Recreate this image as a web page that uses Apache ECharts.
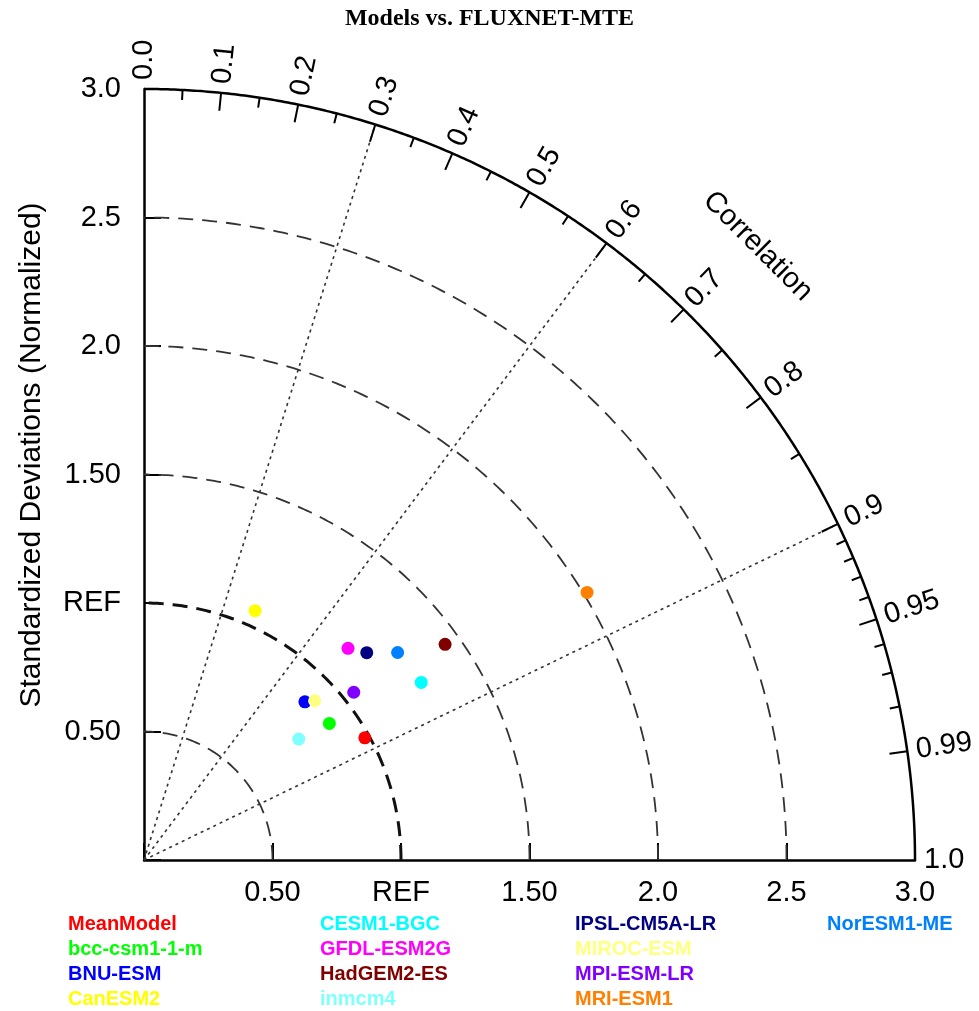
<!DOCTYPE html>
<html>
<head>
<meta charset="utf-8">
<title>Models vs. FLUXNET-MTE</title>
<script src="https://cdn.jsdelivr.net/npm/echarts@6/dist/echarts.min.js"></script>
<style>
  html, body { margin: 0; padding: 0; background: #fff; }
  #taylor { width: 979px; height: 1011px; }
</style>
</head>
<body>
<div id="taylor"></div>
<script>
// models, in legend order (later ones are drawn on top)
const models = ['MeanModel', 'bcc-csm1-1-m', 'BNU-ESM', 'CanESM2',
  'CESM1-BGC', 'GFDL-ESM2G', 'HadGEM2-ES', 'inmcm4',
  'IPSL-CM5A-LR', 'MIROC-ESM', 'MPI-ESM-LR', 'MRI-ESM1', 'NorESM1-ME'];
const modelColors = ['#ff0000', '#00ff00', '#0000ff', '#ffff00',
  '#00ffff', '#ff00ff', '#800000', '#80ffff',
  '#000080', '#ffff80', '#8000ff', '#ff8000', '#0080ff'];
// normalized standard deviation and correlation
const stdRatio = [0.982, 0.896, 0.878, 1.062, 1.281, 1.144, 1.441, 0.764, 1.184, 0.908, 1.045, 2.014, 1.275];
const correlation = [0.875, 0.805, 0.713, 0.407, 0.842, 0.694, 0.813, 0.788, 0.732, 0.731, 0.781, 0.856, 0.774];

// std dev axes
const stdTicks = [0, 0.5, 1, 1.5, 2, 2.5, 3];
const stdTickLabels = ['', '0.50', 'REF', '1.50', '2.0', '2.5', '3.0'];
const stdArcs = [0.5, 1, 1.5, 2, 2.5];
const stdMax = 3;

// correlation arc
const corrMajor = [0.1, 0.2, 0.3, 0.4, 0.5, 0.6, 0.7, 0.8, 0.9, 0.95, 0.99];
const corrLabelAt = [0, 0.1, 0.2, 0.3, 0.4, 0.5, 0.6, 0.7, 0.8, 0.9, 0.95, 0.99, 1.0];
const corrLabels = ['0.0', '0.1', '0.2', '0.3', '0.4', '0.5', '0.6', '0.7', '0.8', '0.9', '0.95', '0.99', '1.0'];
const corrMinor = [0.05, 0.15, 0.25, 0.35, 0.45, 0.55, 0.65, 0.75, 0.85,
  0.91, 0.92, 0.93, 0.94, 0.96, 0.97, 0.98];
const corrRays = [0.3, 0.6, 0.9];

const FONT = '"Liberation Sans", Arial, sans-serif';

function xy(r, c) {
  return [r * c, r * Math.sqrt(Math.max(0, 1 - c * c))];
}

function renderFrame(params, api) {
  const unit = api.size([1, 0])[0];
  const kids = [];
  const at = (r, c) => api.coord(xy(r, c));

  // std dev arcs
  stdArcs.forEach(function (r) {
    const pts = [];
    for (let i = 0; i <= 180; i++) {
      const a = i * Math.PI / 360;
      pts.push(api.coord([r * Math.cos(a), r * Math.sin(a)]));
    }
    const isRef = r === 1;
    kids.push({
      type: 'polyline', shape: { points: pts },
      style: { fill: null, stroke: isRef ? '#111' : '#333', lineWidth: isRef ? 3 : 1.8, lineDash: [15, 9] }
    });
  });

  // outer arc
  const outer = [];
  for (let i = 0; i <= 360; i++) {
    const a = i * Math.PI / 720;
    outer.push(api.coord([stdMax * Math.cos(a), stdMax * Math.sin(a)]));
  }
  kids.push({ type: 'polyline', shape: { points: outer }, style: { fill: null, stroke: '#000', lineWidth: 2.5 } });

  // correlation rays
  const o = api.coord([0, 0]);
  corrRays.forEach(function (c) {
    const p = at(stdMax, c);
    kids.push({
      type: 'line', shape: { x1: o[0], y1: o[1], x2: p[0], y2: p[1] },
      style: { stroke: '#333', lineWidth: 1.6, lineDash: [3, 4] }
    });
  });

  // ticks on the outer arc
  corrMajor.forEach(function (c) {
    const p1 = at(stdMax, c), p2 = at(stdMax - 18 / unit, c);
    kids.push({ type: 'line', shape: { x1: p1[0], y1: p1[1], x2: p2[0], y2: p2[1] }, style: { stroke: '#000', lineWidth: 2 } });
  });
  corrMinor.forEach(function (c) {
    const p1 = at(stdMax, c), p2 = at(stdMax - 10 / unit, c);
    kids.push({ type: 'line', shape: { x1: p1[0], y1: p1[1], x2: p2[0], y2: p2[1] }, style: { stroke: '#000', lineWidth: 2 } });
  });

  // correlation labels, reading outward
  corrLabelAt.forEach(function (c, i) {
    const p = at(stdMax + 9 / unit, c);
    kids.push({
      type: 'text', x: p[0], y: p[1], rotation: Math.acos(c),
      style: { text: corrLabels[i], font: '29px ' + FONT, fill: '#000', align: 'left', verticalAlign: 'middle' }
    });
  });

  // axis title along the arc
  const tc = Math.cos(Math.PI / 4);
  const tp = at(stdMax + 97 / unit, tc);
  kids.push({
    type: 'text', x: tp[0], y: tp[1], rotation: Math.acos(tc) - Math.PI / 2,
    style: { text: 'Correlation', font: '29px ' + FONT, fill: '#000', align: 'center', verticalAlign: 'middle' }
  });

  return { type: 'group', children: kids };
}

const chart = echarts.init(document.getElementById('taylor'));

const axisCommon = {
  type: 'value', min: 0, max: stdMax, interval: 0.5,
  splitLine: { show: false },
  axisLine: { lineStyle: { color: '#000', width: 2.5 } },
  axisTick: { inside: true, length: 17, lineStyle: { color: '#000', width: 2 } },
  axisLabel: {
    color: '#000', fontSize: 29, fontFamily: FONT,
    formatter: function (v) { return stdTickLabels[stdTicks.indexOf(Math.round(v * 2) / 2)]; }
  }
};

const series = [{
  type: 'custom', name: 'frame', clip: false, silent: true, z: 1,
  renderItem: renderFrame, data: [[0, 0]]
}];
models.forEach(function (m, i) {
  series.push({
    type: 'scatter', name: m, z: 5 + i,
    symbolSize: 13,
    itemStyle: { color: modelColors[i], opacity: 1 },
    data: [xy(stdRatio[i], correlation[i])]
  });
});

const legendCols = [[0, 1, 2, 3], [4, 5, 6, 7], [8, 9, 10, 11], [12]];
const legendLeft = [63, 315, 570, 822];
const legends = legendCols.map(function (col, k) {
  return {
    orient: 'vertical', left: legendLeft[k], top: 914, padding: 0,
    icon: 'none', itemWidth: 0, itemHeight: 20, itemGap: 5,
    selectedMode: false,
    textStyle: { fontSize: 20, fontWeight: 'bold', fontFamily: FONT, lineHeight: 20 },
    data: col.map(function (i) { return { name: models[i], textStyle: { color: modelColors[i] } }; })
  };
});

chart.setOption({
  backgroundColor: '#fff',
  animation: false,
  title: {
    text: 'Models vs. FLUXNET-MTE', left: 'center', top: 2,
    textStyle: { fontFamily: '"Liberation Serif", "Times New Roman", serif', fontWeight: 'bold', fontSize: 24, color: '#000' }
  },
  grid: { left: 144, top: 89, width: 771, height: 771 },
  xAxis: Object.assign({}, axisCommon, { axisLabel: Object.assign({}, axisCommon.axisLabel, { margin: 18 }) }),
  yAxis: Object.assign({}, axisCommon, { axisLabel: Object.assign({}, axisCommon.axisLabel, { margin: 23 }) }),
  legend: legends,
  graphic: [{
    type: 'text', x: 32, y: 455, rotation: Math.PI / 2,
    style: { text: 'Standardized Deviations (Normalized)', font: '30px ' + FONT, fill: '#000', align: 'center', verticalAlign: 'middle' }
  }],
  series: series
});
</script>
</body>
</html>
